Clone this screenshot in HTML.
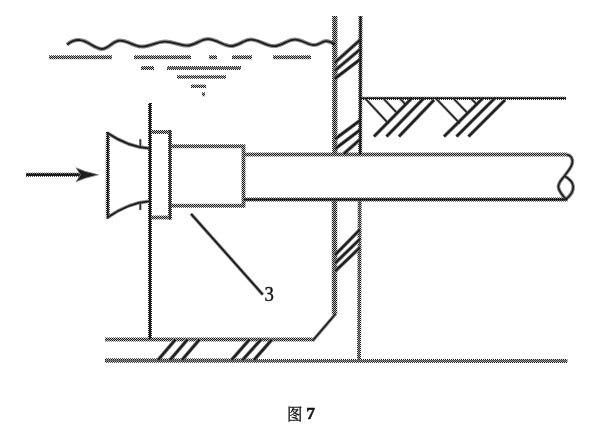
<!DOCTYPE html>
<html lang="zh">
<head>
<meta charset="utf-8">
<title>图 7</title>
<style>
html,body{margin:0;padding:0;background:#fff;}
body{width:600px;height:429px;overflow:hidden;position:relative;font-family:"Liberation Serif","Noto Serif CJK SC",serif;}
svg{position:absolute;left:0;top:0;display:block;}
</style>
</head>
<body>
<svg width="600" height="429" viewBox="0 0 600 429">
<defs>
<pattern id="ck" width="2" height="2" patternUnits="userSpaceOnUse">
<rect x="0" y="0" width="1" height="1" fill="#1a1a1a"/>
<rect x="1" y="1" width="1" height="1" fill="#1a1a1a"/>
</pattern>
<filter id="nf" x="0" y="0" width="600" height="429" filterUnits="userSpaceOnUse"><feOffset dx="0" dy="0"/></filter>
</defs>
<rect width="600" height="429" fill="#fff"/>
<path d="M49 57.3H112 M134 57.3H191 M209 57.3H217 M232 57.3H252 M273 57.3H311 M141 68H154 M202 94.3H205" fill="none" stroke="#b4b4b4" stroke-width="2.4"/>
<path d="M167 68H241" fill="none" stroke="#b4b4b4" stroke-width="2.4"/>
<path d="M177 77H226 M191 86.3H206" fill="none" stroke="#b4b4b4" stroke-width="2.0"/>
<path d="M334.8 16V154.5 M334.5 200V314.5" fill="none" stroke="#b4b4b4" stroke-width="3.9"/>
<path d="M360.5 16L360.2 154.5" fill="none" stroke="#b4b4b4" stroke-width="2.4"/>
<path d="M359.7 200L359 360" fill="none" stroke="#b4b4b4" stroke-width="2.4"/>
<path d="M360 98.3H566" fill="none" stroke="#b4b4b4" stroke-width="1.6"/>
<path d="M244 154.5H567" fill="none" stroke="#b4b4b4" stroke-width="2.4"/>
<path d="M244 199.6H567.5" fill="none" stroke="#b4b4b4" stroke-width="2.4"/>
<path d="M170 146.3H243.5V205.7H170" fill="none" stroke="#b4b4b4" stroke-width="2.4"/>
<path d="M150 132H170 M150 217.5H170" fill="none" stroke="#b4b4b4" stroke-width="2.4"/>
<path d="M170 130V219.5" fill="none" stroke="#b4b4b4" stroke-width="2.4"/>
<path d="M150 103V339" fill="none" stroke="#b4b4b4" stroke-width="2.4"/>
<path d="M107.8 132V218.5" fill="none" stroke="#b4b4b4" stroke-width="2.4"/>
<path d="M26 174.8H84" fill="none" stroke="#b4b4b4" stroke-width="2.4"/>
<path d="M105 339.5H314" fill="none" stroke="#b4b4b4" stroke-width="2.4"/>
<path d="M105 360.5L567.3 360.8" fill="none" stroke="#b4b4b4" stroke-width="2.8000000000000003"/>
<path d="M67,44.6 C72,40.6 76,39.6 80,40.1 C88,40.6 94,48.6 102,49.1 C109,48.6 113,40.6 120,40.6 C128,40.6 134,46.6 142,46.6 C150,46.6 157,41.6 165,41.6 C173,41.6 180,45.6 187,45.6 C195,45.6 200,39.1 208,39.1 C216,39.1 224,46.1 231,46.1 C238,46.1 244,39.6 251,39.6 C259,39.6 266,46.1 274,46.1 C282,46.1 287,39.6 295,39.6 C302,39.6 308,45.1 314,45.1 C319,45.1 322,41.1 326,41.1 C330,41.1 332,42.6 335,44.6" fill="none" stroke="#8c8c8c" stroke-width="4"/>
<path d="M49 57.3H112 M134 57.3H191 M209 57.3H217 M232 57.3H252 M273 57.3H311 M141 68H154 M202 94.3H205" fill="none" stroke="url(#ck)" stroke-width="4"/>
<path d="M167 68H241" fill="none" stroke="url(#ck)" stroke-width="4"/>
<path d="M177 77H226 M191 86.3H206" fill="none" stroke="url(#ck)" stroke-width="3.6"/>
<path d="M334.8 16V154.5 M334.5 200V314.5" fill="none" stroke="url(#ck)" stroke-width="5.5"/>
<path d="M360.5 16L360.2 154.5" fill="none" stroke="url(#ck)" stroke-width="4"/>
<path d="M359.7 200L359 360" fill="none" stroke="url(#ck)" stroke-width="4"/>
<path d="M335 62.5L360 40 M335 70.5L360 49.5 M335 78.5L360 59.5 M335 139L360 120.5 M335.5 148.5L360 130 M344 153.5L360 139.5 M335 255L360 229.5 M335 263.3L360 239 M335 271.3L360 247.5" fill="none" stroke="#808080" stroke-width="3.8"/>
<path d="M360 98.3H566" fill="none" stroke="url(#ck)" stroke-width="3.2"/>
<path d="M412 98L374 136.5 M424 98L386.5 136.5 M434 100L399 136.5 M483 98L444 136.5 M495 98L456.5 136.5 M505 100L468.5 136.5" fill="none" stroke="#808080" stroke-width="3.8"/>
<path d="M364.8 98L388.5 123.5 M383 98L397 113 M399.5 98L406 105 M435.5 98L460 123.5 M453 98L467.5 113 M470.5 98L477.5 105" fill="none" stroke="#8c8c8c" stroke-width="2.6"/>
<path d="M244 154.5H567" fill="none" stroke="url(#ck)" stroke-width="4"/>
<path d="M244 199.6H567.5" fill="none" stroke="url(#ck)" stroke-width="4"/>
<path d="M567 154.7 C571 155,573 159,572.3 163 C571.5 168,567 172,564.5 176 C561 180,558 183,558.4 187 C559 192,563 196,566 199.2 C570 196,573.5 191,573.2 186.5 C573 182,568 178,564.5 176" fill="none" stroke="#8c8c8c" stroke-width="3.6"/>
<path d="M170 146.3H243.5V205.7H170" fill="none" stroke="url(#ck)" stroke-width="4"/>
<path d="M150 132H170 M150 217.5H170" fill="none" stroke="url(#ck)" stroke-width="4"/>
<path d="M170 130V219.5" fill="none" stroke="url(#ck)" stroke-width="4"/>
<path d="M150 103V339" fill="none" stroke="url(#ck)" stroke-width="4"/>
<path d="M107.8 132V218.5" fill="none" stroke="url(#ck)" stroke-width="4"/>
<path d="M107 132.8Q128.5 147.2 149 148.3 M107 217.8Q128.5 202.7 149 201.3" fill="none" stroke="#8c8c8c" stroke-width="3.6"/>
<path d="M140.3 139.3V146.5 M140.3 203.3V210" fill="none" stroke="#8c8c8c" stroke-width="2.6"/>
<path d="M26 174.8H84" fill="none" stroke="url(#ck)" stroke-width="4"/>
<path d="M191 213.8L262.8 294.6" fill="none" stroke="#8c8c8c" stroke-width="3.4"/>
<path d="M105 339.5H314" fill="none" stroke="url(#ck)" stroke-width="4"/>
<path d="M105 360.5L567.3 360.8" fill="none" stroke="url(#ck)" stroke-width="4.4"/>
<path d="M313 340.3L335.5 314" fill="none" stroke="#8c8c8c" stroke-width="3.4"/>
<path d="M158 360L175.5 339.5 M170 360L187.5 339.5 M182 360L199.5 339.5 M231.5 360L249.5 339.5 M242.5 360L261 339.5 M254 360L272 339.5" fill="none" stroke="#808080" stroke-width="3.8"/>
<path d="M67,44.6 C72,40.6 76,39.6 80,40.1 C88,40.6 94,48.6 102,49.1 C109,48.6 113,40.6 120,40.6 C128,40.6 134,46.6 142,46.6 C150,46.6 157,41.6 165,41.6 C173,41.6 180,45.6 187,45.6 C195,45.6 200,39.1 208,39.1 C216,39.1 224,46.1 231,46.1 C238,46.1 244,39.6 251,39.6 C259,39.6 266,46.1 274,46.1 C282,46.1 287,39.6 295,39.6 C302,39.6 308,45.1 314,45.1 C319,45.1 322,41.1 326,41.1 C330,41.1 332,42.6 335,44.6" fill="none" stroke="#1c1c1c" stroke-width="1.8"/>
<path d="M167 68H241" fill="none" stroke="#666" stroke-width="1"/>
<path d="M360.5 16L360.2 154.5" fill="none" stroke="#1c1c1c" stroke-width="2"/>
<path d="M359.7 200L359 360" fill="none" stroke="#555" stroke-width="0.8"/>
<path d="M335 62.5L360 40 M335 70.5L360 49.5 M335 78.5L360 59.5 M335 139L360 120.5 M335.5 148.5L360 130 M344 153.5L360 139.5 M335 255L360 229.5 M335 263.3L360 239 M335 271.3L360 247.5" fill="none" stroke="#1c1c1c" stroke-width="2.2"/>
<path d="M360 98.3H566" fill="none" stroke="#1c1c1c" stroke-width="1.6"/>
<path d="M412 98L374 136.5 M424 98L386.5 136.5 M434 100L399 136.5 M483 98L444 136.5 M495 98L456.5 136.5 M505 100L468.5 136.5" fill="none" stroke="#1c1c1c" stroke-width="2.2"/>
<path d="M364.8 98L388.5 123.5 M383 98L397 113 M399.5 98L406 105 M435.5 98L460 123.5 M453 98L467.5 113 M470.5 98L477.5 105" fill="none" stroke="#1c1c1c" stroke-width="1.2"/>
<path d="M244 199.6H567.5" fill="none" stroke="#1c1c1c" stroke-width="2"/>
<path d="M567 154.7 C571 155,573 159,572.3 163 C571.5 168,567 172,564.5 176 C561 180,558 183,558.4 187 C559 192,563 196,566 199.2 C570 196,573.5 191,573.2 186.5 C573 182,568 178,564.5 176" fill="none" stroke="#1c1c1c" stroke-width="1.6"/>
<path d="M170 130V219.5" fill="none" stroke="#1c1c1c" stroke-width="1.2"/>
<path d="M150 103V339" fill="none" stroke="#1c1c1c" stroke-width="2"/>
<path d="M107.8 132V218.5" fill="none" stroke="#1c1c1c" stroke-width="1.5"/>
<path d="M107 132.8Q128.5 147.2 149 148.3 M107 217.8Q128.5 202.7 149 201.3" fill="none" stroke="#1c1c1c" stroke-width="1.8"/>
<path d="M140.3 139.3V146.5 M140.3 203.3V210" fill="none" stroke="#1c1c1c" stroke-width="1"/>
<path d="M26 174.8H84" fill="none" stroke="#1c1c1c" stroke-width="2.6"/>
<path d="M191 213.8L262.8 294.6" fill="none" stroke="#1c1c1c" stroke-width="1.8"/>
<path d="M105 360.5L567.3 360.8" fill="none" stroke="#666" stroke-width="0.8"/>
<path d="M313 340.3L335.5 314" fill="none" stroke="#1c1c1c" stroke-width="1.6"/>
<path d="M158 360L175.5 339.5 M170 360L187.5 339.5 M182 360L199.5 339.5 M231.5 360L249.5 339.5 M242.5 360L261 339.5 M254 360L272 339.5" fill="none" stroke="#1c1c1c" stroke-width="2.2"/>
<path d="M98.5 174.8L85 171.3L76 167.8L80.5 174.8L76 181.8L85 178.3Z" fill="#1c1c1c" stroke="#888" stroke-width="0.8"/>
<g filter="url(#nf)">
<text transform="translate(264.4 300.6) scale(0.86 1)" x="0" y="0" font-family="'Liberation Serif',serif" font-size="21.8" fill="#111" stroke="#111" stroke-width="0.4">3</text>
<text x="287" y="420" font-family="'Liberation Serif','Noto Serif CJK SC',serif" font-size="15.5" fill="#111" stroke="#111" stroke-width="0.3">图</text>
<text x="306.3" y="419.1" font-family="'Liberation Serif','Noto Serif CJK SC',serif" font-size="17.5" font-weight="bold" fill="#111" stroke="#111" stroke-width="0.5">7</text>
</g>
</svg>
</body>
</html>
